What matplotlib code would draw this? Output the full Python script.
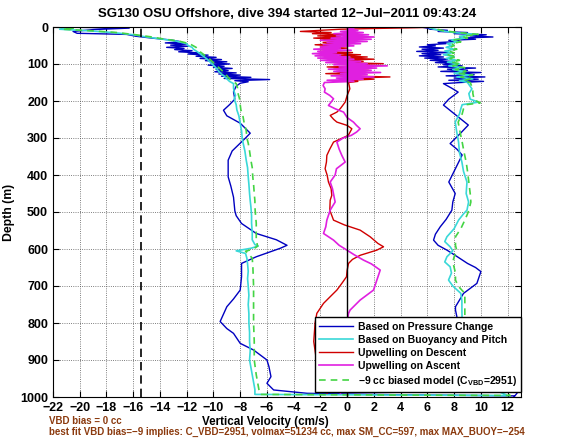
import matplotlib.pyplot as plt

# Seaglider dive 394: vertical velocity estimates vs depth
# depth in m, velocities in cm/s (descent followed by ascent)

press_depth = [0, 3, 7, 12, 17, 20, 25, 30, 35,
               40, 43, 46, 49, 52, 55, 58, 61, 64, 67, 70, 73, 76, 79, 82, 85, 88, 91, 94, 97,
               100, 103, 106, 109, 112, 115, 118, 121, 124, 127, 130, 133, 136, 139, 142, 145, 148, 152,
               160, 175, 195, 210, 225, 240, 260, 287, 300, 314, 335, 360, 405, 430, 460, 497, 510,
               531, 558, 575, 590, 598, 621, 639, 675, 711, 735, 756, 796, 815, 828, 855, 873, 900,
               918, 945, 963, 981, 990, 994, 997,
               999, 985, 958, 940, 900, 850, 800, 765, 756, 738, 720, 693, 661, 650, 639, 620, 603,
               590, 576, 560, 540, 520, 495, 473, 450, 419, 390, 346, 330, 315, 290, 265, 240, 211,
               195, 176, 165, 153,
               150, 147, 144, 141, 138, 135, 132, 129, 126, 123, 120, 117, 114, 111, 108, 105, 102,
               99, 96, 93, 90, 87, 84, 81, 78, 75, 72, 69, 66, 63, 60, 57, 54, 51, 48, 45, 42, 39,
               36, 33, 30, 27, 24, 21, 18, 15, 12, 9, 6, 3, 0]
press_w = [-21.7, -16.3, -19.0, -20.5, -20.2, -16.5, -15.8, -14.6, -13.2,
           -12.4, -13.6, -12.0, -13.2, -11.9, -13.5, -12.2, -12.9, -11.6, -12.6, -11.0, -11.9, -10.4,
           -11.3, -9.8, -11.0, -9.4, -10.6, -9.0, -10.2,
           -8.8, -10.4, -9.2, -10.0, -8.6, -9.8, -8.9, -9.9, -8.3, -9.6, -8.0, -9.4, -7.2, -9.2, -5.8,
           -8.4, -7.4, -8.0,
           -8.3, -8.5, -8.4, -8.8, -9.25, -9.0, -8.0, -7.25, -7.6, -8.0, -8.6, -8.9, -8.9, -8.7, -8.5,
           -8.4, -8.3, -7.9, -6.8, -5.3, -4.5, -5.0, -6.8, -7.9, -7.9, -8.0, -8.5, -9.0, -9.5, -9.0,
           -8.5, -8.0, -7.0, -6.0, -5.85, -5.7, -6.0, -5.5, -3.0, 4.0, 12.5,
           12.5, 12.8, 12.6, 11.0, 9.5, 8.8, 8.3, 8.1, 8.1, 8.4, 8.7, 9.7, 10.0, 9.6, 9.0, 8.2, 7.46,
           6.8, 6.46, 6.6, 6.96, 7.4, 7.83, 7.9, 8.08, 7.6, 8.0, 8.6, 8.2, 7.7, 8.4, 9.06, 8.2, 7.2,
           7.6, 8.3, 7.8, 7.2,
           8.5, 10.2, 7.6, 9.8, 8.0, 10.3, 7.4, 9.5, 8.2, 10.0, 7.0, 9.0, 7.5, 9.6, 6.8, 8.6, 7.2,
           8.0, 6.6, 7.8, 6.2, 7.5, 5.8, 7.2, 5.4, 7.0, 5.6, 7.6, 5.2, 6.8, 5.6, 7.2, 5.4, 6.6, 6.0,
           7.4, 6.8, 8.4, 7.6, 9.6, 8.4, 10.9, 9.2, 10.4, 8.0, 9.0, 6.8, 7.5, 6.2, 6.0, 5.5]

buoy_depth = [0, 3, 6, 10, 15, 21, 27, 32, 38, 45, 50, 55, 60, 67, 75, 86, 93, 100, 107, 113,
              120, 127, 133, 140, 147, 153, 165, 175, 185, 194, 210, 224, 240, 260, 280, 300, 314,
              335, 360, 380, 405, 425, 450, 470, 486, 510, 530, 555, 575, 588, 592, 598, 605, 612,
              625, 640, 660, 680, 700, 725, 750, 775, 800, 825, 850, 875, 900, 920, 940, 960, 980,
              993, 996,
              980, 950, 900, 850, 800, 765, 740, 720, 700, 684, 665, 648, 635, 621, 605, 594, 580,
              567, 545, 522, 505, 495, 473, 450, 419, 390, 365, 340, 311, 285, 257, 235, 221, 210,
              203, 195, 180, 167, 150,
              145, 140, 135, 130, 125, 120, 115, 110, 105, 100, 95, 90, 85, 80, 75, 70, 65, 60,
              55, 50, 45, 40, 35, 30, 25, 20, 15, 10, 5, 0]
buoy_w = [-22.0, -20.5, -21.5, -19.5, -17.5, -16.0, -15.0, -14.0, -12.8, -12.0, -11.9, -11.6,
          -11.5, -11.2, -10.9, -10.5, -10.3, -10.1, -9.9, -9.75, -9.6, -9.4, -9.2, -9.0, -8.8, -8.5,
          -8.5, -8.45, -8.35, -8.45, -8.3, -8.25, -8.1, -8.0, -7.9, -7.85, -7.78, -7.65, -7.55,
          -7.45, -7.4, -7.35, -7.3, -7.25, -7.2, -7.15, -7.15, -7.1, -7.1, -6.9, -6.65, -7.2, -8.3,
          -7.6, -7.5, -7.45, -7.4, -7.45, -7.4, -7.35, -7.4, -7.35, -7.35, -7.3, -7.3, -7.25, -7.3,
          -7.2, -7.1, -7.0, -6.9, -6.9, 12.0,
          11.0, 9.8, 9.0, 8.8, 8.6, 8.58, 8.58, 8.5, 7.9, 7.58, 7.8, 7.7, 7.3, 7.46, 7.9, 7.7, 7.3,
          7.46, 8.0, 8.33, 8.7, 8.96, 9.08, 8.9, 8.96, 8.7, 8.58, 8.4, 8.33, 8.2, 8.08, 8.4, 8.5,
          8.6, 9.83, 9.2, 9.1, 9.33, 9.0,
          8.4, 9.4, 8.2, 9.2, 8.0, 8.8, 7.9, 8.6, 7.6, 8.4, 7.5, 8.2, 7.4, 8.0, 7.2, 7.8, 7.3, 8.0,
          7.4, 7.8, 7.5, 8.3, 7.8, 8.8, 8.4, 9.6, 8.0, 7.0, 6.4, 6.0]

desc_depth = [0, 2, 4, 6, 9, 12, 15, 18, 21, 24, 27, 30, 33, 36, 39, 42, 45, 48, 51, 54, 57, 60,
              63, 66, 69, 72, 75, 78, 81, 84, 87, 90, 93, 96, 99, 102, 105, 108, 111, 114, 117, 120,
              123, 126, 129, 132, 135, 138, 141, 144, 147, 150,
              158, 167, 185, 203, 220, 230, 239, 250, 257, 266, 275, 293, 311, 330, 347, 365, 383,
              400, 419, 437, 455, 468, 495, 522, 535, 549, 567, 585, 594, 603, 610, 617, 628, 639,
              657, 675, 693, 711, 730, 747, 774, 800, 850, 900, 950, 990]
desc_w = [7.0, 5.0, 2.0, -0.5, -2.0, -3.5, -1.2, -2.6, 0.2, -2.2, -0.5, -2.5, -0.8, -2.0, 0.3,
          -1.8, -0.4, -2.4, -1.0, -2.0, 0.0, -1.6, -0.8, -2.0, 0.4, -1.2, 1.0, -0.6, 1.5, 0.0, 2.0,
          -0.5, 1.2, -1.0, 2.7, 0.0, 1.8, -1.5, 0.8, -1.0, 1.6, -0.8, 0.5, -1.6, 1.0, -0.5, 3.2, 0.5,
          2.0, 0.2, 0.8, 0.1,
          0.15, 0.2, 0.0, -0.15, -0.5, -0.77, -1.27, -1.0, -0.77, 0.0, 0.35, 0.08, -1.02, -1.3,
          -1.52, -1.55, -1.65, -1.5, -1.4, -1.2, -1.15, -1.27, -1.3, -1.02, -0.2, 0.97, 1.72, 2.3,
          2.72, 2.22, 1.6, 0.97, 0.4, 0.1, 0.0, -0.05, -0.4, -0.77, -1.3, -1.77, -2.27, -2.4, -2.5,
          -2.3, -2.0, -1.5]

asc_depth = [990, 950, 900, 850, 800, 774, 765, 738, 711, 684, 657, 640, 630, 615, 603, 590, 576,
             558, 540, 522, 495, 473, 455, 437, 419, 400, 383, 365, 347, 330, 311, 300, 293, 284,
             275, 266, 257, 245, 230, 221, 212, 203, 194, 185, 176, 167, 158, 150,
             147, 144, 141, 138, 135, 132, 129, 126, 123, 120, 117, 114, 111, 108, 105, 102, 99,
             96, 93, 90, 87, 84, 81, 78, 75, 72, 69, 66, 63, 60, 57, 54, 51, 48, 45, 42, 39, 36,
             33, 30, 27, 24, 21, 18, 15, 12, 9, 6, 3, 0]
asc_w = [-0.5, 0.0, 0.3, 0.2, 0.0, 0.1, 0.22, 0.97, 1.97, 2.22, 2.47, 1.8, 1.22, 0.5, -0.02, -0.6,
         -1.02, -1.77, -1.6, -1.52, -1.27, -0.9, -1.0, -1.1, -1.27, -0.9, -0.8, -0.15, -0.4, -0.6,
         -0.77, -0.3, 0.3, 0.7, 0.97, 0.7, 0.47, 0.0, -0.27, -0.9, -1.4, -1.2, -1.02, -1.3, -1.7,
         -1.65, -1.8, -1.7,
         0.5, -1.5, 1.2, -0.8, 2.0, -1.2, 1.5, -0.5, 2.5, -1.0, 1.8, -1.4, 2.2, -0.6, 3.0, -1.0,
         1.5, -1.6, 1.0, -2.0, 0.5, -2.2, 0.2, -2.4, -0.5, -2.6, -0.8, -2.2, 0.3, -2.5, -0.5, -2.0,
         0.5, -1.8, 1.0, -1.5, 1.5, -2.0, 1.8, -1.2, 2.0, -0.8, 1.6, -1.0, 1.2, -0.5, 0.8, 0.0,
         0.5, 0.2]

model_depth = [0, 3, 6, 10, 15, 21, 27, 32, 38, 45, 55, 67, 86, 100, 113, 127, 140, 153, 165,
               175, 194, 210, 224, 240, 260, 280, 300, 314, 335, 360, 380, 405, 425, 450, 470, 486,
               510, 530, 555, 575, 592, 600, 606, 612, 625, 650, 700, 750, 800, 850, 900, 940, 980,
               993, 996,
               980, 950, 900, 850, 800, 765, 740, 720, 700, 684, 665, 650, 635, 621, 605, 590, 567,
               545, 522, 505, 495, 473, 450, 420, 390, 365, 340, 311, 285, 257, 235, 221, 210, 205,
               197, 180, 167, 150,
               145, 140, 135, 130, 125, 120, 115, 110, 105, 100, 95, 90, 85, 80, 75, 70, 65, 60,
               55, 50, 45, 40, 35, 30, 25, 20, 15, 10, 5, 0]
model_w = [-21.8, -20.3, -21.3, -19.2, -17.2, -15.8, -14.6, -13.8, -12.6, -11.8, -11.3, -11.0,
           -10.3, -9.9, -9.5, -9.1, -8.8, -8.3, -8.2, -8.2, -8.05, -8.0, -7.95, -7.8, -7.7, -7.55,
           -7.5, -7.4, -7.3, -7.2, -7.1, -7.06, -7.0, -6.95, -6.9, -6.9, -6.85, -6.8, -6.8, -6.8,
           -6.7, -7.0, -7.6, -7.4, -7.1, -7.05, -7.0, -7.0, -7.0, -6.95, -6.95, -6.8, -6.6, -6.5,
           12.2,
           11.2, 10.0, 9.3, 9.0, 8.8, 8.8, 8.8, 8.8, 8.3, 8.1, 8.1, 8.0, 7.9, 8.0, 8.2, 8.1, 8.1,
           8.5, 8.8, 9.0, 9.1, 9.25, 9.2, 9.1, 9.0, 8.9, 8.75, 8.6, 8.45, 8.3, 8.6, 8.7, 8.9, 9.95,
           9.5, 9.4, 9.4, 9.2,
           8.7, 9.2, 8.5, 9.4, 8.3, 8.9, 8.1, 8.8, 7.9, 8.5, 7.8, 8.4, 7.7, 8.2, 7.5, 8.0, 7.6, 8.2,
           7.7, 8.0, 7.8, 8.5, 8.0, 9.0, 8.6, 9.8, 8.3, 7.2, 6.6, 6.2]

stall_w = -15.4   # dashed reference line
vbd_bias = 0
fit_text = "best fit VBD bias=\u22129 implies: C_VBD=2951, volmax=51234 cc, max SM_CC=597, max MAX_BUOY=\u2212254"

plt.rcParams['font.family'] = ['Liberation Sans', 'DejaVu Sans']
plt.rcParams['font.weight'] = 'bold'
plt.rcParams['mathtext.fontset'] = 'custom'
plt.rcParams['mathtext.rm'] = 'Liberation Sans:bold'
plt.rcParams['mathtext.bf'] = 'Liberation Sans:bold'

fig = plt.figure(figsize=(5.68, 4.42), dpi=100)
ax = fig.add_axes([53 / 568, 1 - 397 / 442, 468 / 568, 370 / 442])

ax.plot(press_w, press_depth, color='#0000c0', lw=1.0, label='Based on Pressure Change')
ax.plot(buoy_w, buoy_depth, color='#3ad8d8', lw=1.2, label='Based on Buoyancy and Pitch')
ax.plot(desc_w, desc_depth, color='#d00000', lw=1.0, label='Upwelling on Descent')
ax.plot(asc_w, asc_depth, color='#e020e0', lw=1.2, label='Upwelling on Ascent')
ax.plot(model_w, model_depth, color='#44d444', lw=1.2, ls=(0, (4, 3)),
        label='\u22129 cc biased model (C$_{\\mathrm{VBD}}$=2951)')

ax.axvline(stall_w, color='k', lw=1.2, ls=(0, (5, 3)))
ax.axvline(0, color='k', lw=1.0)

ax.set_xlim(-22, 13)
ax.set_ylim(1000, 0)
ax.set_xticks(range(-22, 13, 2))
ax.set_yticks(range(0, 1001, 100))
ax.grid(True, ls=':', color='#555555', lw=0.6)
ax.tick_params(direction='in', top=True, right=True, labelsize=9, length=4)
for lab in ax.get_xticklabels() + ax.get_yticklabels():
    lab.set_fontweight('bold')

ax.set_title('SG130 OSU Offshore, dive 394 started 12\u2212Jul\u22122011 09:43:24',
             fontsize=9.5, fontweight='bold', pad=7)
ax.set_ylabel('Depth (m)', fontsize=8.8, fontweight='bold')
ax.set_xlabel('Vertical Velocity (cm/s)', fontsize=8.4, fontweight='bold')
ax.xaxis.set_label_coords(0.453, -0.05)

leg = ax.legend(loc='lower right', bbox_to_anchor=(1.0, 0.013), borderaxespad=0,
                prop={'size': 7.5, 'weight': 'bold'}, fancybox=False, framealpha=1,
                edgecolor='k', handlelength=3.2, handletextpad=0.5, labelspacing=0.3,
                borderpad=0.4)
leg.get_frame().set_linewidth(1.0)

brown = '#8b3a0e'
fig.text(49 / 568, 1 - 421 / 442, 'VBD bias = %d cc' % vbd_bias, color=brown,
         fontsize=7, fontweight='bold', va='center')
fig.text(49 / 568, 1 - 432 / 442, fit_text, color=brown,
         fontsize=7, fontweight='bold', va='center')

fig.savefig('out.png', dpi=100)
